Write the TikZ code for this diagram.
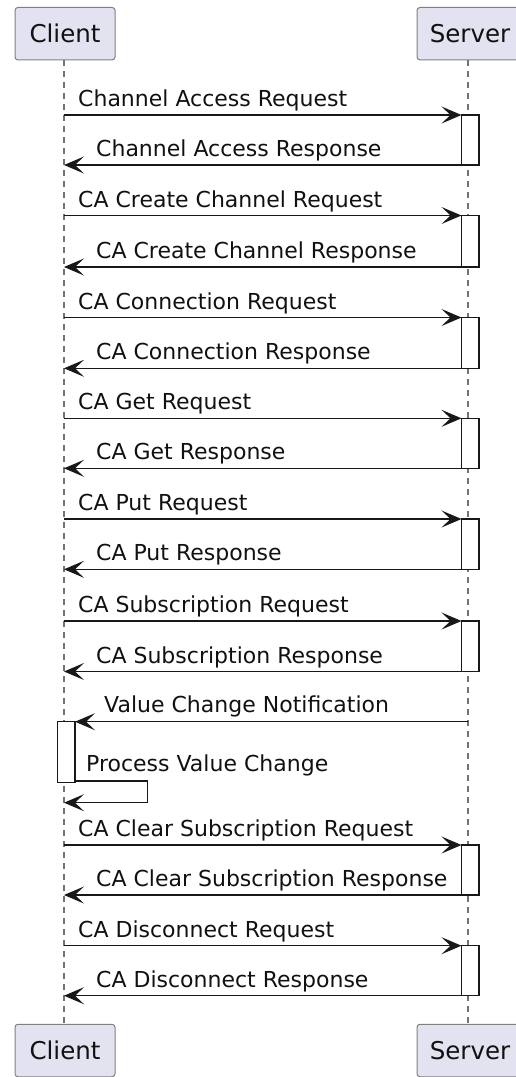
\documentclass[tikz,border=0pt]{standalone}
\usepackage{fontspec}
\setmainfont{DejaVu Sans}
\usetikzlibrary{arrows.meta}
\definecolor{partfill}{HTML}{E2E2F0}
\definecolor{arrowc}{HTML}{181818}
\definecolor{textc}{HTML}{111111}
\begin{document}
\begin{tikzpicture}[x=1pt,y=-1pt,
  part/.style={draw=black!50, line width=1pt, fill=partfill, rounded corners=3pt, minimum width=100pt, minimum height=52.5pt, inner sep=0pt, font=\fontsize{24.5}{28}\selectfont, text=textc},
  life/.style={draw=black!55, line width=1.2pt, dash pattern=on 6pt off 5pt},
  msg/.style={draw=arrowc, line width=1.5pt, -{Stealth[length=20pt,width=17pt,inset=9pt]}},
  act/.style={draw=arrowc, line width=1.5pt, fill=white, minimum width=17.5pt, inner sep=0pt, outer sep=0pt, anchor=north west},
  lbl/.style={anchor=base west, inner sep=0pt, font=\fontsize{22}{26}\selectfont, text=textc}]
\useasboundingbox (0,0) rectangle (516,1077);
% participants
\node[part] (ct) at (65,33.7) {Client};
\node[part, minimum width=106pt] (st) at (470,33.7) {Server};
\node[part] (cb) at (65,1050.5) {Client};
\node[part, minimum width=106pt] (sb) at (470,1050.5) {Server};
\coordinate (cx) at (64,0);
\coordinate (sx) at (468,0);
% lifelines
\draw[life] (ct.south -| cx) -- (cb.north -| cx);
\draw[life] (st.south -| sx) -- (sb.north -| sx);
% activations on server
\node[act, minimum height=50pt]   (a1) at (461.5,115) {};
\node[act, minimum height=51.5pt] (a2) at (461.5,215.5) {};
\node[act, minimum height=50.8pt] (a3) at (461.5,317.5) {};
\node[act, minimum height=50pt]   (a4) at (461.5,418.3) {};
\node[act, minimum height=50.3pt] (a5) at (461.5,519) {};
\node[act, minimum height=50.5pt] (a6) at (461.5,621) {};
\node[act, minimum height=50pt]   (a7) at (461.5,845) {};
\node[act, minimum height=50pt]   (a8) at (461.5,945.7) {};
% activation on client
\node[act, minimum width=17.7pt, minimum height=60.6pt] (ca) at (57.3,721.7) {};
% messages
\foreach \a/\req/\resp in {a1/Channel Access Request/Channel Access Response,
  a2/CA Create Channel Request/CA Create Channel Response,
  a3/CA Connection Request/CA Connection Response,
  a4/CA Get Request/CA Get Response,
  a5/CA Put Request/CA Put Response,
  a6/CA Subscription Request/CA Subscription Response,
  a7/CA Clear Subscription Request/CA Clear Subscription Response,
  a8/CA Disconnect Request/CA Disconnect Response}{
  \draw[msg] (cx |- \a.north west) -- (\a.north west);
  \draw[msg] (\a.south west) -- (cx |- \a.south west);
  \node[lbl] (\a-req) at ([yshift=8.5pt]\a.north west -| 78,0) {\req};
  \node[lbl] (\a-resp) at ([yshift=8.5pt]\a.south west -| 96,0) {\resp};
}
% value change notification
\draw[msg] (sx |- ca.north east) -- (ca.north east);
\node[lbl] (vcn) at (104,712.2) {Value Change Notification};
% self message
\coordinate (s1) at (75,781);
\coordinate (s2) at (147.3,781);
\coordinate (s3) at (147.3,802.7);
\draw[msg] (s1) -- (s2) -- (s3) -- (cx |- s3);
\node[lbl] (pvc) at (86,771) {Process Value Change};
\end{tikzpicture}
\end{document}
